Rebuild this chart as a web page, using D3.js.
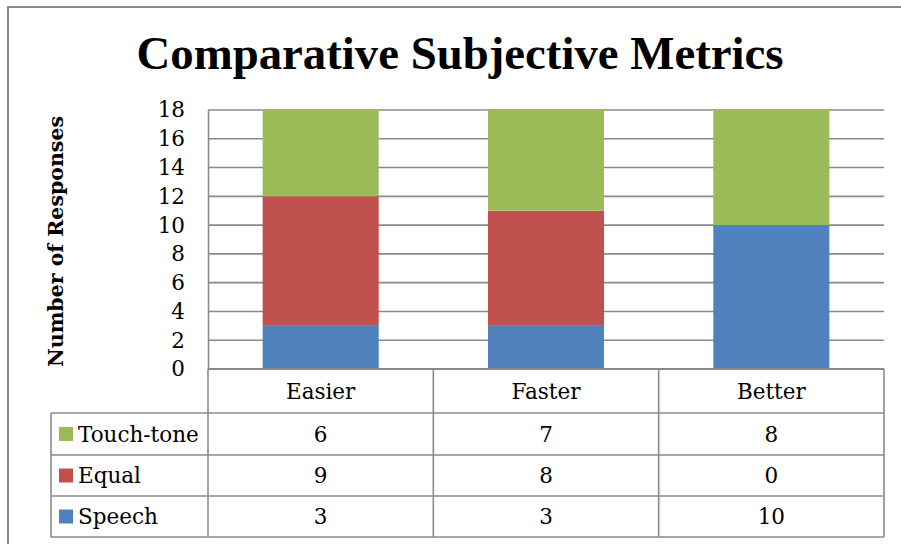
<!DOCTYPE html>
<html>
<head>
<meta charset="utf-8">
<script src="https://cdn.jsdelivr.net/npm/d3@7"></script>
<style>
  html, body { margin: 0; padding: 0; background: #fff; }
  svg { display: block; }
</style>
</head>
<body>
<svg id="chart" width="901" height="544"></svg>
<script>
// Survey results: number of responses per preference, by metric
const categories = ["Easier", "Faster", "Better"];
const seriesNames = ["Speech", "Equal", "Touch-tone"];   // stacking order, bottom to top
const speech    = [3, 3, 10];
const equal     = [9, 8, 0];
const touchTone = [6, 7, 8];
const yTicks    = [0, 2, 4, 6, 8, 10, 12, 14, 16, 18];
const tableRows = ["Touch-tone", "Equal", "Speech"];     // order in the data table

const colors = { "Speech": "#4F81BD", "Equal": "#C0504D", "Touch-tone": "#9BBB59" };
const valuesBySeries = { "Speech": speech, "Equal": equal, "Touch-tone": touchTone };

const svg = d3.select("#chart");
const serif = "'DejaVu Serif', serif";
const lineColor = "#8a8a8a";
const textSize = "21.5px";

const plot = { left: 208, right: 884, top: 110, bottom: 369 };
const headerBottom = 413;
const rowHeights = [42, 41, 41];
const tableLeft = 51;

// chart frame
svg.append("rect")
  .attr("x", 8).attr("y", 7).attr("width", 900).attr("height", 560)
  .attr("fill", "#fff").attr("stroke", lineColor).attr("stroke-width", 2);

// title, sized to span its intended width
const title = svg.append("text")
  .attr("x", 460).attr("y", 69)
  .attr("text-anchor", "middle")
  .style("font-family", "'Liberation Serif', serif")
  .style("font-weight", "bold")
  .style("font-size", "46px")
  .attr("fill", "#000")
  .text("Comparative Subjective Metrics");
const tw = title.node().getComputedTextLength();
title.style("font-size", (46 * 647 / tw).toFixed(2) + "px");

// scales
const x = d3.scaleBand()
  .domain(categories)
  .range([plot.left, plot.right])
  .paddingInner(0.485)
  .paddingOuter(0.2425);
const y = d3.scaleLinear().domain([0, 18]).range([plot.bottom, plot.top]);

// horizontal gridlines
svg.append("g")
  .selectAll("line")
  .data(yTicks.filter(d => d > 0))
  .join("line")
  .attr("x1", plot.left).attr("x2", plot.right)
  .attr("y1", d => y(d)).attr("y2", d => y(d))
  .attr("stroke", lineColor).attr("stroke-width", 1.6);

// stacked bars
const rows = categories.map((c, i) => {
  const o = { category: c };
  seriesNames.forEach(s => { o[s] = valuesBySeries[s][i]; });
  return o;
});
const stacked = d3.stack().keys(seriesNames)(rows);

svg.append("g")
  .selectAll("g")
  .data(stacked)
  .join("g")
  .attr("fill", d => colors[d.key])
  .selectAll("rect")
  .data(d => d)
  .join("rect")
  .attr("x", d => x(d.data.category))
  .attr("width", x.bandwidth())
  .attr("y", d => y(d[1]))
  .attr("height", d => y(d[0]) - y(d[1]));

// y axis
const yAxis = d3.axisLeft(y).tickValues(yTicks).tickSize(0).tickPadding(23).tickFormat(d3.format("d"));
const yg = svg.append("g").attr("transform", `translate(${plot.left},0)`).call(yAxis);
yg.select(".domain").attr("stroke", lineColor).attr("stroke-width", 1.6);
yg.selectAll("text")
  .style("font-family", serif)
  .style("font-size", textSize)
  .attr("fill", "#000");

// y axis title
svg.append("text")
  .attr("transform", `translate(63,${(plot.top + plot.bottom) / 2 + 2}) rotate(-90)`)
  .attr("text-anchor", "middle")
  .style("font-family", serif)
  .style("font-weight", "bold")
  .style("font-size", "20.5px")
  .attr("fill", "#000")
  .text("Number of Responses");

// data table
const tbl = svg.append("g");
const rowTops = [headerBottom];
rowHeights.forEach((h, i) => rowTops.push(rowTops[i] + h));
const tableBottom = rowTops[rowTops.length - 1];
const colEdges = [plot.left, ...categories.map(c => x(c) + x.bandwidth() / 2 + x.step() / 2)];

// header cells (category names)
tbl.selectAll("text.cat")
  .data(categories)
  .join("text")
  .attr("class", "cat")
  .attr("x", d => x(d) + x.bandwidth() / 2)
  .attr("y", (plot.bottom + headerBottom) / 2 + 7.5)
  .attr("text-anchor", "middle")
  .style("font-family", serif)
  .style("font-size", textSize)
  .attr("fill", "#000")
  .text(d => d);

// value cells
tableRows.forEach((name, r) => {
  const cy = (rowTops[r] + rowTops[r + 1]) / 2;
  tbl.append("rect")
    .attr("x", 59).attr("y", cy - 7).attr("width", 14).attr("height", 14)
    .attr("fill", colors[name]);
  tbl.append("text")
    .attr("x", 78).attr("y", cy + 7.5)
    .style("font-family", serif)
    .style("font-size", textSize)
    .attr("fill", "#000")
    .text(name);
  tbl.selectAll(null)
    .data(valuesBySeries[name])
    .join("text")
    .attr("x", (d, i) => x(categories[i]) + x.bandwidth() / 2)
    .attr("y", cy + 7.5)
    .attr("text-anchor", "middle")
    .style("font-family", serif)
    .style("font-size", textSize)
    .attr("fill", "#000")
    .text(d => d);
});

// table grid lines
const hLines = rowTops.map(t => ({ x1: tableLeft, x2: plot.right, y: t }));
tbl.selectAll("line.h")
  .data(hLines)
  .join("line")
  .attr("x1", d => d.x1).attr("x2", d => d.x2)
  .attr("y1", d => d.y).attr("y2", d => d.y)
  .attr("stroke", lineColor).attr("stroke-width", 1.6);
tbl.selectAll("line.v")
  .data(colEdges)
  .join("line")
  .attr("x1", d => d).attr("x2", d => d)
  .attr("y1", plot.bottom).attr("y2", tableBottom)
  .attr("stroke", lineColor).attr("stroke-width", 1.6);
tbl.append("line")
  .attr("x1", tableLeft).attr("x2", tableLeft)
  .attr("y1", headerBottom).attr("y2", tableBottom)
  .attr("stroke", lineColor).attr("stroke-width", 1.6);
// x axis baseline
svg.append("line")
  .attr("x1", plot.left).attr("x2", plot.right)
  .attr("y1", plot.bottom).attr("y2", plot.bottom)
  .attr("stroke", lineColor).attr("stroke-width", 1.8);
</script>
</body>
</html>
